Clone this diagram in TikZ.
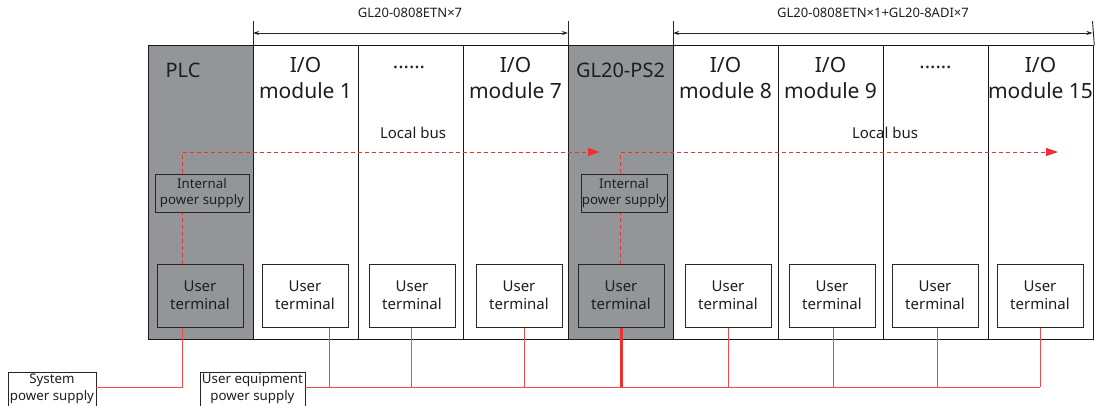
\documentclass[tikz,border=0pt]{standalone}
\usepackage{fontspec}
\setmainfont{Noto Sans}
\usetikzlibrary{arrows.meta,calc}
\definecolor{plcgray}{HTML}{939598}
\definecolor{busred}{HTML}{EE3030}
\definecolor{wirered}{HTML}{EE4A4A}
\definecolor{txt}{HTML}{1E1E1E}
\begin{document}
\begin{tikzpicture}[x=1pt,y=-1pt,
  col/.style={draw=black!90, line width=1.3pt, minimum width=105pt, minimum height=294pt, anchor=north west, inner sep=0pt},
  darkcol/.style={col, fill=plcgray},
  title/.style={text=txt, inner sep=0pt, align=center, font=\fontsize{21}{26}\selectfont},
  headtxt/.style={text=txt, inner sep=0pt, font=\fontsize{20}{24}\selectfont},
  busl/.style={text=txt, inner sep=0pt, font=\fontsize{15}{18}\selectfont},
  termbox/.style={draw=black!85, line width=1pt, fill=white, minimum width=86pt, minimum height=63pt, inner sep=0pt, align=center, text=txt, font=\fontsize{15}{18}\selectfont},
  darkterm/.style={termbox, fill=plcgray},
  ipsbox/.style={draw=black!85, line width=1pt, fill=plcgray, minimum height=38pt, inner sep=0pt, align=center, text=txt, font=\fontsize{13.3}{16.5}\selectfont},
  pwrbox/.style={draw=black!85, line width=0.8pt, fill=white, minimum height=34pt, inner sep=0pt, align=center, text=txt, font=\fontsize{13.3}{17}\selectfont},
  bus/.style={draw=busred, line width=1pt, dash pattern=on 4pt off 3pt},
  bustip/.style={-{Triangle[length=12pt,width=8pt]}},
  wire/.style={draw=wirered, line width=1pt},
  dim/.style={draw=black!85, line width=0.9pt},
  dimtip/.style={{Stealth[length=6pt,width=4pt]}-{Stealth[length=6pt,width=4pt]}},
  toplabel/.style={text=txt, inner sep=0pt, font=\fontsize{13}{16}\selectfont}
]
\useasboundingbox (0,0) rectangle (1096,405);
\clip (0,0) rectangle (1096,405);

% columns
\node[darkcol] (c0) at (148,45) {};
\node[col] (c1) at (253,45) {};
\node[col] (c2) at (358,45) {};
\node[col] (c3) at (463,45) {};
\node[darkcol] (c4) at (568,45) {};
\node[col] (c5) at (673,45) {};
\node[col] (c6) at (778,45) {};
\node[col] (c7) at (883,45) {};
\node[col] (c8) at (988,45) {};

% column titles
\node[headtxt] (tplc) at (183,70) {PLC};
\node[title] (t1) at (305.5,78) {I/O\\module 1};
\node[headtxt] (t2) at (409,67) {......};
\node[title] (t3) at (515.5,78) {I/O\\module 7};
\node[headtxt] (tps) at (620.5,70) {GL20-PS2};
\node[title] (t5) at (725.5,78) {I/O\\module 8};
\node[title] (t6) at (830.5,78) {I/O\\module 9};
\node[headtxt] (t7) at (935.5,67) {......};
\node[title] (t8) at (1040.5,78) {I/O\\module 15};

% local bus labels
\node[busl] (lb1) at (413,133) {Local bus};
\node[busl] (lb2) at (885,133) {Local bus};

% dimension lines
\coordinate (d1a) at (253,21);
\coordinate (d1b) at (568,21);
\coordinate (d2a) at (673,21);
\coordinate (d2b) at (1092.5,21);
\draw[dim] (d1a) -- (c1.north west);
\draw[dim] (d1b) -- (c4.north west);
\draw[dim] (d2a) -- (c5.north west);
\draw[dim] (d2b) -- (c8.north east);
\draw[dim, dimtip] ($(d1a)+(0,12)$) -- ($(d1b)+(0,12)$);
\draw[dim, dimtip] ($(d2a)+(0,12)$) -- ($(d2b)+(0,12)$);
\node[toplabel] (dl1) at (410,13) {GL20-0808ETN×7};
\node[toplabel] (dl2) at (873,13) {GL20-0808ETN×1+GL20-8ADI×7};

% user terminals
\node[darkterm] (u0) at (200,295.5) {User\\terminal};
\node[termbox] (u1) at (305,295.5) {User\\terminal};
\node[termbox] (u2) at (412,295.5) {User\\terminal};
\node[termbox] (u3) at (519,295.5) {User\\terminal};
\node[darkterm] (u4) at (621,295.5) {User\\terminal};
\node[termbox] (u5) at (728,295.5) {User\\terminal};
\node[termbox] (u6) at (832,295.5) {User\\terminal};
\node[termbox] (u7) at (935,295.5) {User\\terminal};
\node[termbox] (u8) at (1040,295.5) {User\\terminal};

% local bus (dashed)
\coordinate (b0) at (182,152);
\coordinate (b0end) at (600,152);
\coordinate (b4) at (620.5,152);
\coordinate (b4end) at (1058,152);
\draw[bus, bustip] (u0.north -| b0) -- (b0) -- (b0end);
\draw[bus, bustip] (u4.north -| b4) -- (b4) -- (b4end);

% internal power supplies (drawn over the bus)
\node[ipsbox, minimum width=94pt] (ip0) at (202,193) {Internal\\power supply};
\node[ipsbox, minimum width=86pt] (ip4) at (624,193) {Internal\\power supply};

% power supply boxes
\coordinate (ubus) at (0,387);
\node[pwrbox, minimum width=88pt] (sps) at (52,389) {System\\power supply};
\node[pwrbox, minimum width=105pt] (ueps) at (252.5,389) {User equipment\\power supply};

% wiring
\draw[wire] (u0.south -| b0) |- (sps.east |- ubus);
\draw[wire] (ueps.east |- ubus) -- (u8.south |- ubus);
\coordinate (w1) at (329,0);
\coordinate (w2) at (411,0);
\coordinate (w3) at (524,0);
\coordinate (w5) at (728,0);
\coordinate (w6) at (833,0);
\coordinate (w7) at (937,0);
\draw[wire] (u1.south -| w1) -- (w1 |- ubus);
\draw[wire] (u2.south -| w2) -- (w2 |- ubus);
\draw[wire] (u3.south -| w3) -- (w3 |- ubus);
\draw[wire] (u5.south -| w5) -- (w5 |- ubus);
\draw[wire] (u6.south -| w6) -- (w6 |- ubus);
\draw[wire] (u7.south -| w7) -- (w7 |- ubus);
\draw[wire] (u8.south) -- (u8.south |- ubus);
\draw[wire, draw=busred, line width=3pt] (u4.south) -- (u4.south |- ubus);
\end{tikzpicture}
\end{document}
